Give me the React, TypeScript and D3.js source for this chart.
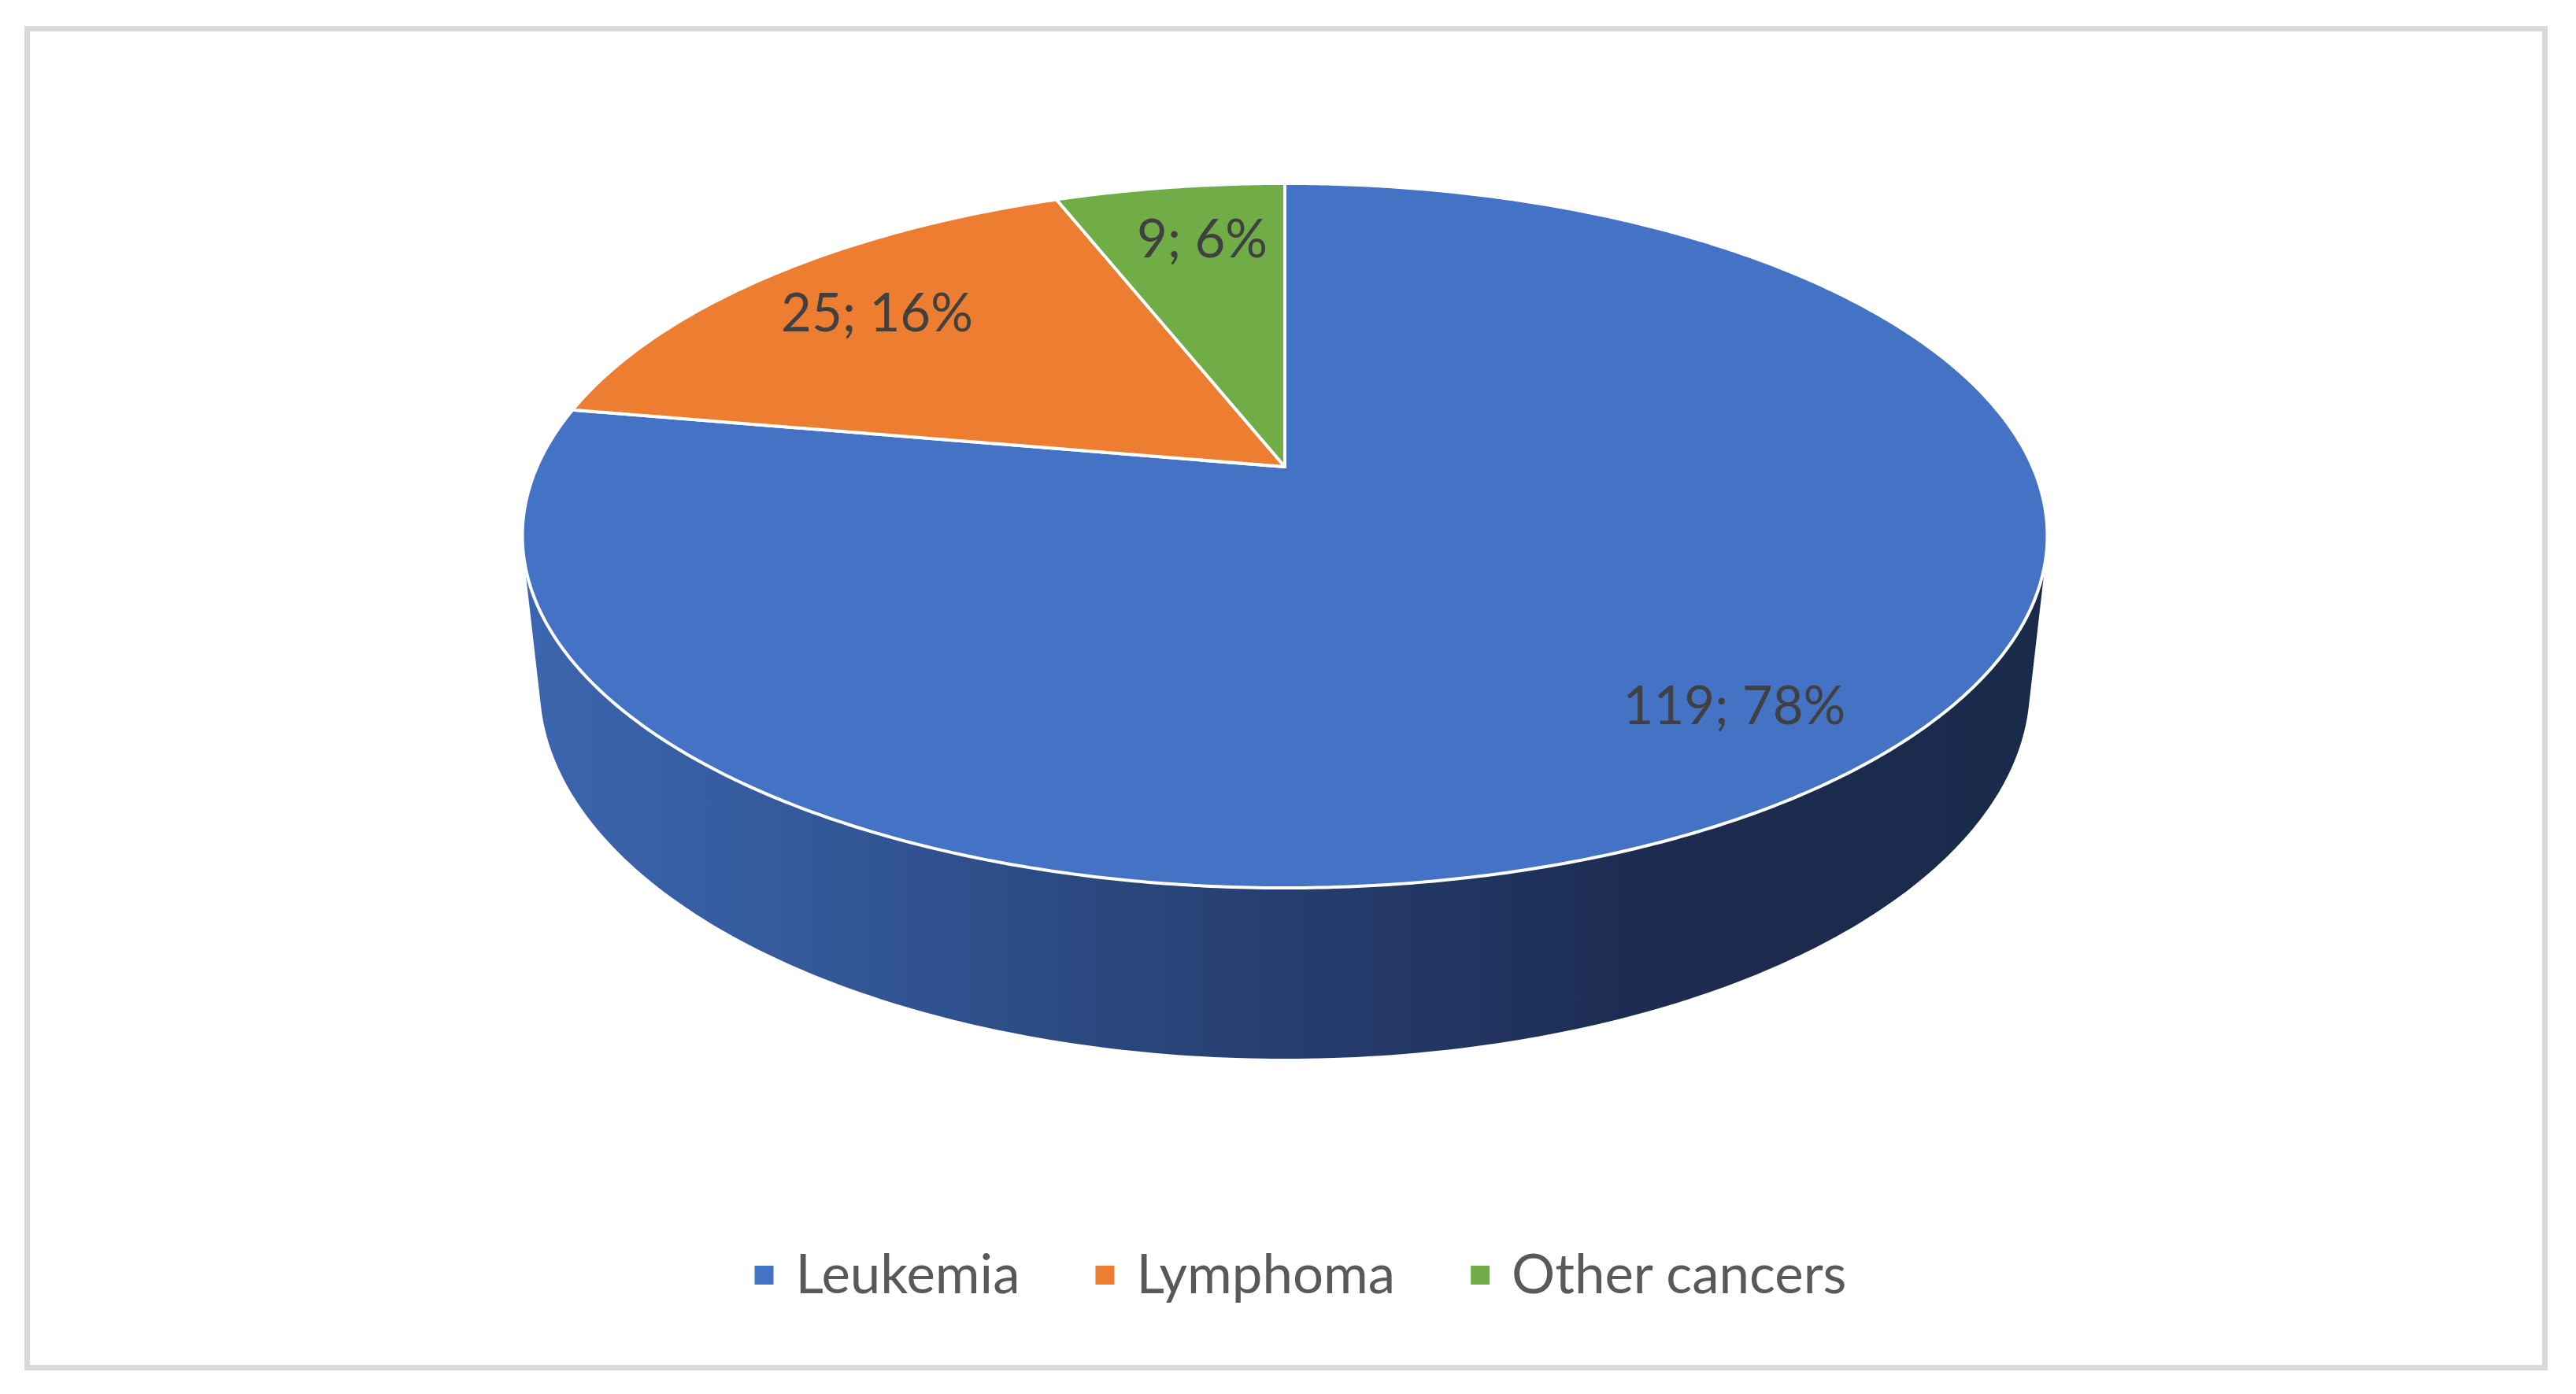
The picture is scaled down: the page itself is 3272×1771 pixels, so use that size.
import React, { useEffect, useRef } from 'react';
import * as d3 from 'd3';

const categories = ['Leukemia', 'Lymphoma', 'Other cancers'];
const counts = [119, 25, 9];
const colors = ['#4472C4', '#ED7D31', '#70AD47'];

type Slice = { name: string; value: number; color: string };

const App: React.FC = () => {
  const svgRef = useRef<SVGSVGElement | null>(null);

  useEffect(() => {
    if (!svgRef.current) return;
    document.body.style.margin = '0';

    // 3D pie camera (fitted to the reference)
    const cx = 1632;
    const cy = 593;
    const F = 4331;
    const dist = 4.56;
    const sinA = 0.4532;
    const cosA = 0.8914;
    const depth = 0.2262;

    const project = (theta: number, r: number, yw: number): [number, number] => {
      const vx = r * Math.sin(theta);
      const vz = r * Math.cos(theta) + dist * cosA;
      const vy = yw - dist * sinA;
      const w = -vy * sinA + vz * cosA;
      const up = vy * cosA + vz * sinA;
      return [cx + (F * vx) / w, cy - (F * up) / w];
    };

    const data: Slice[] = categories.map((name, i) => ({
      name,
      value: counts[i],
      color: colors[i],
    }));
    const total = d3.sum(counts);

    const pie = d3
      .pie<Slice>()
      .sort(null)
      .value((d) => d.value);
    const arcs = pie(data);

    const svg = d3.select(svgRef.current);
    svg.selectAll('*').remove();

    svg
      .append('rect')
      .attr('x', 34.5)
      .attr('y', 36.5)
      .attr('width', 3198)
      .attr('height', 1701)
      .attr('fill', '#ffffff')
      .attr('stroke', '#d9d9d9')
      .attr('stroke-width', 7);

    // side wall gradient
    const defs = svg.append('defs');
    const grad = defs
      .append('linearGradient')
      .attr('id', 'wall')
      .attr('gradientUnits', 'userSpaceOnUse')
      .attr('x1', 668)
      .attr('x2', 2600)
      .attr('y1', 0)
      .attr('y2', 0);
    [
      [0, '#3b65ae'],
      [0.17, '#345a9c'],
      [0.4, '#29467b'],
      [0.61, '#223562'],
      [0.74, '#1c2b4f'],
      [1, '#1a2a4b'],
    ].forEach(([o, c]) => grad.append('stop').attr('offset', o).attr('stop-color', c as string));

    const line = d3.line<[number, number]>().curve(d3.curveLinearClosed);

    // visible part of the side (front-facing)
    const limit = Math.acos(-1 / (dist * cosA));
    const steps = 200;
    const topPts: [number, number][] = [];
    const botPts: [number, number][] = [];
    for (let i = 0; i <= steps; i++) {
      const t = limit + ((2 * Math.PI - 2 * limit) * i) / steps;
      topPts.push(project(t, 1, 0));
      botPts.push(project(t, 1, -depth));
    }
    svg
      .append('path')
      .attr('d', line([...topPts, ...botPts.reverse()]))
      .attr('fill', 'url(#wall)');

    // top face slices
    svg
      .append('g')
      .selectAll('path')
      .data(arcs)
      .enter()
      .append('path')
      .attr('d', (a) => {
        const pts: [number, number][] = [project(0, 0, 0)];
        const n = Math.max(8, Math.ceil((a.endAngle - a.startAngle) * 120));
        for (let i = 0; i <= n; i++) {
          pts.push(project(a.startAngle + ((a.endAngle - a.startAngle) * i) / n, 1, 0));
        }
        return line(pts);
      })
      .attr('fill', (a) => a.data.color)
      .attr('stroke', '#ffffff')
      .attr('stroke-width', 4)
      .attr('stroke-linejoin', 'round');

    // data labels
    const labelPos = (a: d3.PieArcDatum<Slice>) => project((a.startAngle + a.endAngle) / 2, 0.8, 0);
    svg
      .append('g')
      .selectAll('text')
      .data(arcs)
      .enter()
      .append('text')
      .attr('x', (a) => labelPos(a)[0] + 16)
      .attr('y', (a) => labelPos(a)[1] + 27)
      .attr('text-anchor', 'middle')
      .attr('font-family', 'Lato, sans-serif')
      .attr('font-size', 67)
      .attr('fill', '#404040')
      .text((a) => `${a.data.value}; ${Math.round((a.data.value / total) * 100)}%`);

    // legend
    const legend = svg.append('g');
    const items = legend
      .selectAll('g')
      .data(data)
      .enter()
      .append('g');
    items
      .append('rect')
      .attr('width', 24)
      .attr('height', 24)
      .attr('y', 1608)
      .attr('fill', (d) => d.color);
    const labels = items
      .append('text')
      .attr('y', 1643)
      .attr('font-family', 'Lato, sans-serif')
      .attr('font-size', 69)
      .attr('fill', '#595959')
      .text((d) => d.name);

    const widths = labels.nodes().map((n) => (n as SVGTextElement).getComputedTextLength());
    const gapIn = 28;
    const gapOut = 96;
    const totalW = d3.sum(widths) + data.length * (24 + gapIn) + (data.length - 1) * gapOut;
    let x0 = 1652 - totalW / 2;
    items.each(function (_, i) {
      const g = d3.select(this);
      g.select('rect').attr('x', x0);
      g.select('text').attr('x', x0 + 24 + gapIn);
      x0 += 24 + gapIn + widths[i] + gapOut;
    });
  }, []);

  return <svg ref={svgRef} width={3272} height={1771} style={{ display: 'block' }} />;
};

export default App;
